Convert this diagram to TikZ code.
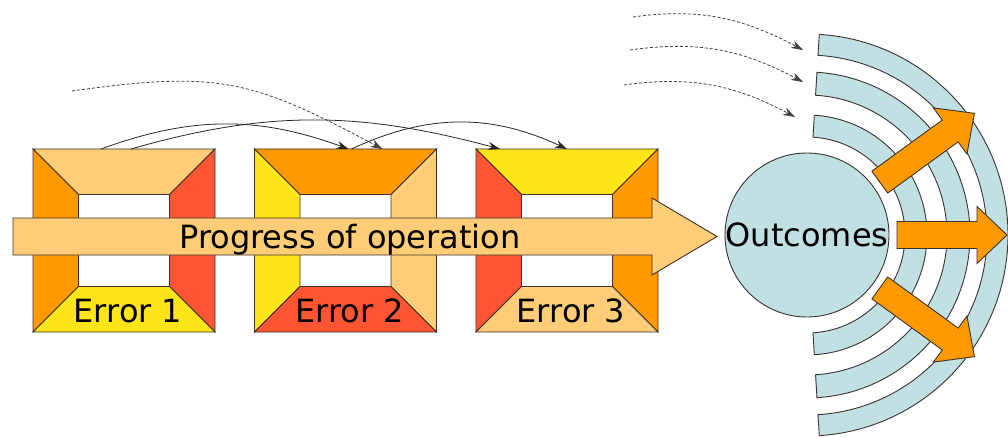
\documentclass[tikz,border=0pt]{standalone}
\usepackage{fontspec}
\setsansfont{DejaVu Sans}
\usepackage{xcolor}
\definecolor{errlight}{RGB}{255,204,119}
\definecolor{errorange}{RGB}{255,153,0}
\definecolor{errred}{RGB}{255,85,51}
\definecolor{erryellow}{RGB}{255,228,26}
\definecolor{outblue}{RGB}{192,224,228}
\definecolor{edgegray}{RGB}{60,50,45}
\usetikzlibrary{arrows.meta,calc}

\begin{document}
\begin{tikzpicture}[x=1pt,y=1pt,font=\sffamily\fontsize{32}{38}\selectfont,
    shapeline/.style={draw=edgegray,line width=0.9pt},
    link/.style={-{Stealth[length=12pt,width=8pt]},line width=0.8pt,black!85},
    dashlink/.style={link,dash pattern=on 3pt off 2pt,black!75}]
  \useasboundingbox (0,0) rectangle (1008,437);
  % Error frames
  \foreach \n/\x/\ctop/\cleft/\cright/\cbot in {1/124/errlight/errorange/errred/erryellow,
      2/345.5/errorange/erryellow/errlight/errred, 3/567/erryellow/errred/errorange/errlight}{
    \node[minimum width=182pt,minimum height=183pt,inner sep=0pt,outer sep=0pt] (frame\n) at (\x,196.5) {};
    \filldraw[fill=\ctop,shapeline] (frame\n.north west) -- (frame\n.north east) -- ++(-45.5,-45.5)
      -- ($(frame\n.north west)+(45.5,-45.5)$) -- cycle;
    \filldraw[fill=\cleft,shapeline] (frame\n.north west) -- ++(45.5,-45.5)
      -- ($(frame\n.south west)+(45.5,45.5)$) -- (frame\n.south west) -- cycle;
    \filldraw[fill=\cright,shapeline] (frame\n.north east) -- (frame\n.south east) -- ++(-45.5,45.5)
      -- ($(frame\n.north east)+(-45.5,-45.5)$) -- cycle;
    \filldraw[fill=\cbot,shapeline] (frame\n.south west) -- (frame\n.south east) -- ++(-45.5,45.5)
      -- ($(frame\n.south west)+(45.5,45.5)$) -- cycle;
    \node[anchor=base,inner sep=0pt] (label\n) at ($(frame\n.south)+(4,10)$) {Error \n};
  }
  % Progress arrow
  \filldraw[fill=errlight,shapeline] (13,182) -- (652,182) -- (652,162) -- (717,200.5)
    -- (652,239) -- (652,219) -- (13,219) -- cycle;
  \node[anchor=base,inner sep=0pt] (progress) at (350,189) {Progress of operation};
  % Outcomes
  \node[circle,shapeline,fill=outblue,minimum size=162pt,inner sep=0pt] (outcomes) at (807,202) {Outcomes};
  \begin{scope}[shift={(outcomes.center)}]
    \foreach \ri/\ro in {98/120,140/163,180/201}{
      \filldraw[fill=outblue,shapeline] (86.5:\ro) arc[start angle=86.5,end angle=-86.5,radius=\ro]
        -- (-86.5:\ri) arc[start angle=-86.5,end angle=86.5,radius=\ri] -- cycle;
    }
    \foreach \a/\tip in {36/207,0/200,-36/207}{
      \filldraw[fill=errorange,shapeline,rotate=\a] (90,-13.5) -- (\tip-30,-13.5) -- (\tip-30,-28.5)
        -- (\tip,0) -- (\tip-30,28.5) -- (\tip-30,13.5) -- (90,13.5) -- cycle;
    }
  \end{scope}
  % Links between frames
  \draw[link] ([xshift=68pt]frame1.north west) to[out=20,in=160] ([xshift=94pt]frame2.north west);
  \draw[link] ([xshift=98pt]frame1.north west) to[out=16,in=165] ([xshift=24pt]frame3.north west);
  \draw[link] ([xshift=97pt]frame2.north west) to[out=25,in=155] ([xshift=91pt]frame3.north west);
  % Outside influences
  \coordinate (srcleft) at (72,346);
  \draw[dashlink] (srcleft) to[out=8,in=152,looseness=1.2] ([xshift=128pt]frame2.north west);
  \coordinate (srcA) at (633,420);
  \coordinate (srcB) at (630,387);
  \coordinate (srcC) at (624,352);
  \coordinate (endA) at (803,387);
  \coordinate (endB) at (803,355);
  \coordinate (endC) at (795,320);
  \draw[dashlink] (srcA) to[out=8,in=152] (endA);
  \draw[dashlink] (srcB) to[out=8,in=152] (endB);
  \draw[dashlink] (srcC) to[out=8,in=152] (endC);
\end{tikzpicture}
\end{document}
